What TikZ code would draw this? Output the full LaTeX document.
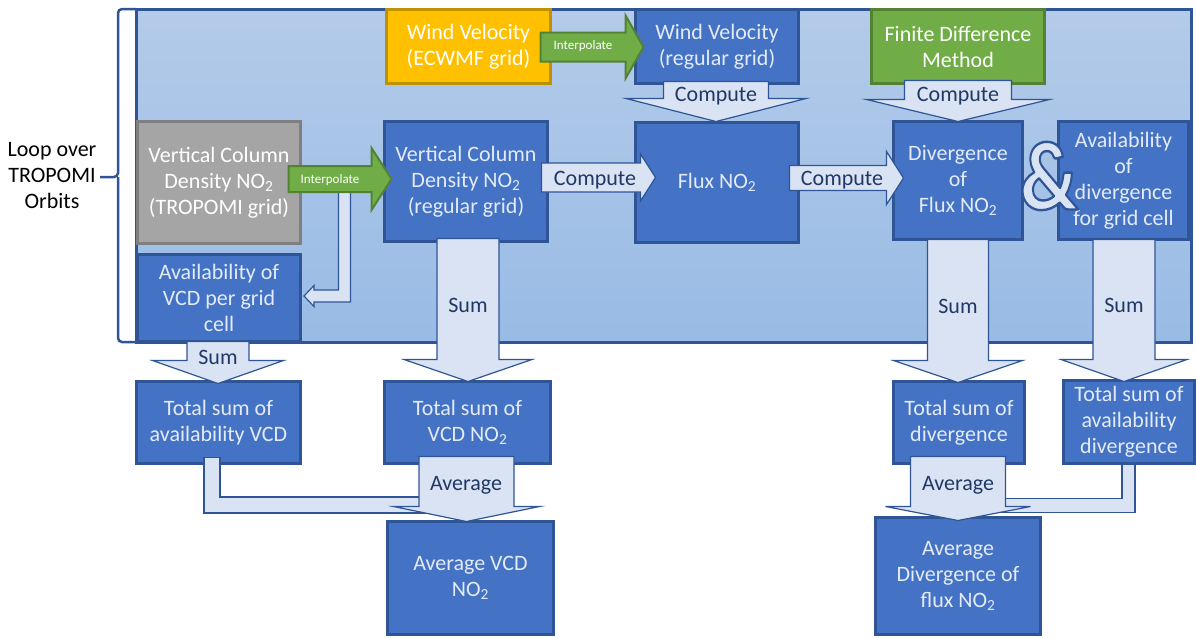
\documentclass[tikz,border=0pt]{standalone}
\usepackage{fontspec}
\setmainfont{Carlito}
\usetikzlibrary{calc}

\definecolor{boxblue}{HTML}{4472C4}
\definecolor{edgeblue}{HTML}{2F5597}
\definecolor{paleblue}{HTML}{DAE3F3}
\definecolor{navy}{HTML}{203864}
\definecolor{boxtext}{HTML}{E4EBF7}
\definecolor{grayfill}{HTML}{A5A5A5}
\definecolor{grayedge}{HTML}{7F7F7F}
\definecolor{orangefill}{HTML}{FFC000}
\definecolor{orangeedge}{HTML}{BF9000}
\definecolor{greenfill}{HTML}{70AD47}
\definecolor{greenedge}{HTML}{548235}
\definecolor{loopbgtop}{HTML}{B4CBE9}
\definecolor{loopbgbot}{HTML}{98BBE5}

% block arrow pointing right: style, tail, tip, shaft half-height, head half-height, head length
\newcommand\blockright[6]{%
  \draw[#1] ($(#2)+(0,-#4)$) -- ($(#3)+(-#6,-#4)$) -- ($(#3)+(-#6,-#5)$) -- (#3)
    -- ($(#3)+(-#6,#5)$) -- ($(#3)+(-#6,#4)$) -- ($(#2)+(0,#4)$) -- cycle;}
% block arrow pointing down: style, tail, tip, shaft half-width, head half-width, head length
\newcommand\blockdown[6]{%
  \draw[#1] ($(#2)+(-#4,0)$) -- ($(#3)+(-#4,-#6)$) -- ($(#3)+(-#5,-#6)$) -- (#3)
    -- ($(#3)+(#5,-#6)$) -- ($(#3)+(#4,-#6)$) -- ($(#2)+(#4,0)$) -- cycle;}
% glyphs filled in the current colour and stroked in dark blue
\newcommand\outlinedtext[1]{%
  \special{pdf:literal direct q 2 Tr 2.4 w 1 j 0.184 0.333 0.592 RG}#1%
  \special{pdf:literal direct Q}}

\begin{document}
\begin{tikzpicture}[x=1pt,y=-1pt,
  base/.style={draw, line width=3pt, align=center, inner sep=0pt,
    font=\fontsize{22}{26}\selectfont},
  boxsize/.style 2 args={minimum width=#1, minimum height=#2},
  bluebox/.style={base, fill=boxblue, draw=edgeblue, text=boxtext},
  graybox/.style={base, fill=grayfill, draw=grayedge, text=white},
  orangebox/.style={base, fill=orangefill, draw=orangeedge, text=white},
  greenbox/.style={base, fill=greenfill, draw=greenedge, text=white},
  flowarrow/.style={fill=paleblue, draw=edgeblue, line width=1.2pt, line join=miter},
  greenarrow/.style={fill=greenfill, draw=greenedge, line width=2pt, line join=miter},
  flowlabel/.style={text=navy, inner sep=0pt, font=\fontsize{22}{26}\selectfont},
  greenlabel/.style={text=white, inner sep=0pt, font=\fontsize{13}{15}\selectfont},
  bracket/.style={draw=edgeblue, line width=2.5pt, rounded corners=4pt},
  amp/.style={inner sep=0pt, xscale=0.84, font=\fontsize{98}{98}\selectfont\bfseries},
]
\useasboundingbox (0,0) rectangle (1196,637);

% loop region and its bracket
\draw[top color=loopbgtop, bottom color=loopbgbot, draw=edgeblue, line width=3pt]
  (136,9.5) rectangle (1191.5,342);
\node[align=center, inner sep=0pt, font=\fontsize{22}{26}\selectfont] (looptext) at (52,176)
  {Loop over\\TROPOMI\\Orbits};
\coordinate (bracetip) at (100,177);
\draw[bracket] (136,9) -- (118,9) -- (118,177) -- (bracetip);
\draw[bracket] (136,342) -- (118,342) -- (118,177);

% boxes
\node[graybox, boxsize={163}{122}] (gray) at (219,182.5)
  {Vertical Column\\Density NO\textsubscript{2}\\(TROPOMI grid)};
\node[bluebox, boxsize={163}{87}] (availvcd) at (219,298)
  {Availability of\\VCD per grid\\cell};
\node[orangebox, boxsize={164}{74}] (orange) at (468.5,46.5)
  {Wind Velocity\\(ECWMF grid)};
\node[bluebox, boxsize={163}{74}] (windreg) at (717,46.5)
  {Wind Velocity\\(regular grid)};
\node[greenbox, boxsize={173}{74}] (fdm) at (958,46.5)
  {Finite Difference\\Method};
\node[bluebox, boxsize={163}{120}] (vcdr) at (466,181.5)
  {Vertical Column\\Density NO\textsubscript{2}\\(regular grid)};
\node[bluebox, boxsize={163}{120}] (flux) at (717,182.5)
  {Flux NO\textsubscript{2}};
\node[bluebox, boxsize={129}{118}] (div) at (958,180.5)
  {Divergence\\of\\Flux NO\textsubscript{2}};
\node[bluebox, boxsize={130}{118}] (avdiv) at (1123.5,180.5)
  {Availability\\of\\divergence\\for grid cell};
\node[bluebox, boxsize={164}{82}] (totavail) at (218.5,422.5)
  {Total sum of\\availability VCD};
\node[bluebox, boxsize={166}{82}] (totvcd) at (467.5,422.5)
  {Total sum of\\VCD NO\textsubscript{2}};
\node[bluebox, boxsize={166}{113}] (avgvcd) at (470.5,578)
  {Average VCD\\NO\textsubscript{2}};
\node[bluebox, boxsize={131}{82}] (totdiv) at (959,422.5)
  {Total sum of\\divergence};
\node[bluebox, boxsize={131}{83}] (totavdiv) at (1129,422)
  {Total sum of\\availability\\divergence};
\node[bluebox, boxsize={165}{117}] (avgdiv) at (958,576)
  {Average\\Divergence of\\flux NO\textsubscript{2}};

% bent arrow: interpolated field -> availability per grid cell
\coordinate (split) at ($(gray.east)+(42.5,9.5)$);
\coordinate (availtip) at ($(availvcd.east)+(2,-2)$);
\coordinate (availbend) at (split |- availtip);
\draw[flowarrow] ($(split)+(-6,0)$) -- ($(availbend)+(-6,-6)$) -- ($(availtip)+(10,-6)$)
  -- ($(availtip)+(10,-10.5)$) -- (availtip) -- ($(availtip)+(10,10.5)$)
  -- ($(availtip)+(10,6)$) -- ($(availbend)+(6,6)$) -- ($(split)+(6,0)$) -- cycle;

% interpolation arrows
\coordinate (int1tail) at ($(orange.east)+(-11.5,0.5)$);
\coordinate (int1tip) at ($(windreg.west)+(9.5,0.5)$);
\blockright{greenarrow}{int1tail}{int1tip}{14.5}{31.5}{18}
\node[greenlabel] (int1lbl) at (583,46) {Interpolate};
\coordinate (int2tail) at ($(gray.east)+(-13.5,-3.5)$);
\coordinate (int2tip) at ($(vcdr.west)+(8.5,-2.5)$);
\blockright{greenarrow}{int2tail}{int2tip}{13}{31}{20}
\node[greenlabel] (int2lbl) at (330,180) {Interpolate};

% compute arrows
\coordinate (cw1) at ($(windreg.south)+(-1,-3.5)$);
\coordinate (cw2) at ($(flux.north)+(-1,0.5)$);
\blockdown{flowarrow}{cw1}{cw2}{52.5}{90}{23}
\node[flowlabel] (cwlbl) at (716,96) {Compute};

\coordinate (cf1) at ($(fdm.south)+(0,-4.5)$);
\coordinate (cf2) at ($(div.north)+(0,1.5)$);
\blockdown{flowarrow}{cf1}{cf2}{53.5}{91.5}{22}
\node[flowlabel] (cflbl) at (958,96) {Compute};

\coordinate (cv1) at ($(vcdr.east)+(-7.5,-4)$);
\coordinate (cv2) at ($(flux.west)+(21.5,-5)$);
\blockright{flowarrow}{cv1}{cv2}{14.5}{23.5}{15}
\node[flowlabel] (cvlbl) at (595,180) {Compute};

\coordinate (cx1) at ($(flux.east)+(-10.5,-4.5)$);
\coordinate (cx2) at ($(div.west)+(11.5,-2.5)$);
\blockright{flowarrow}{cx1}{cx2}{12.5}{26.5}{17}
\node[flowlabel] (cxlbl) at (842,180) {Compute};

% sum arrows
\coordinate (s1a) at ($(availvcd.south)+(-1,-1.5)$);
\coordinate (s1b) at ($(totavail.north)+(-0.5,3.5)$);
\blockdown{flowarrow}{s1a}{s1b}{31}{65.5}{23}
\node[flowlabel] (s1lbl) at (218,357) {Sum};

\coordinate (s2a) at ($(vcdr.south)+(2,-4.5)$);
\coordinate (s2b) at ($(totvcd.north)+(0.5,1.5)$);
\blockdown{flowarrow}{s2a}{s2b}{31}{64}{22}
\node[flowlabel] (s2lbl) at (468,305) {Sum};

\coordinate (s3a) at ($(div.south)+(0,-1.5)$);
\coordinate (s3b) at ($(totdiv.north)+(-1,2.5)$);
\blockdown{flowarrow}{s3a}{s3b}{30.5}{64.5}{22}
\node[flowlabel] (s3lbl) at (958,306) {Sum};

\coordinate (s4a) at ($(avdiv.south)+(0.5,-1.5)$);
\coordinate (s4b) at ($(totavdiv.north)+(-5,2.5)$);
\blockdown{flowarrow}{s4a}{s4b}{31}{63}{22}
\node[flowlabel] (s4lbl) at (1124,305) {Sum};

% feeds of the availability totals into the averages
\coordinate (f1) at ($(totavail.south)+(-6.5,-7.5)$);
\coordinate (j1) at ($(totvcd.south)+(-42.5,40)$);
\coordinate (b1) at (f1 |- j1);
\draw[flowarrow] ($(f1)+(-8,0)$) -- ($(b1)+(-8,8)$) -- ($(j1)+(0,8)$) -- ($(j1)+(0,-8)$)
  -- ($(b1)+(8,-8)$) -- ($(f1)+(8,0)$) -- cycle;

\coordinate (f2) at ($(totavdiv.south)+(-0.5,-1)$);
\coordinate (j2) at ($(totdiv.south)+(41,40.5)$);
\coordinate (b2) at (f2 |- j2);
\draw[flowarrow] ($(f2)+(6.5,0)$) -- ($(b2)+(6.5,7)$) -- ($(j2)+(0,7)$) -- ($(j2)+(0,-7)$)
  -- ($(b2)+(-6.5,-7)$) -- ($(f2)+(-6.5,0)$) -- cycle;

% average arrows
\coordinate (a1a) at ($(totvcd.south)+(-1,-8.5)$);
\coordinate (a1b) at ($(avgvcd.north)+(-4,1.5)$);
\blockdown{flowarrow}{a1a}{a1b}{47.5}{73}{15}
\node[flowlabel] (a1lbl) at (466,485) {Average};

\coordinate (a2a) at ($(totdiv.south)+(-1,-8.5)$);
\coordinate (a2b) at ($(avgdiv.north)+(0,4.5)$);
\blockdown{flowarrow}{a2a}{a2b}{47.5}{72.5}{14}
\node[flowlabel] (a2lbl) at (958,485) {Average};

% outlined ampersand between the two result boxes
\node[amp, text=paleblue] (amp) at (1049,176) {\outlinedtext{\&}};
\end{tikzpicture}
\end{document}
